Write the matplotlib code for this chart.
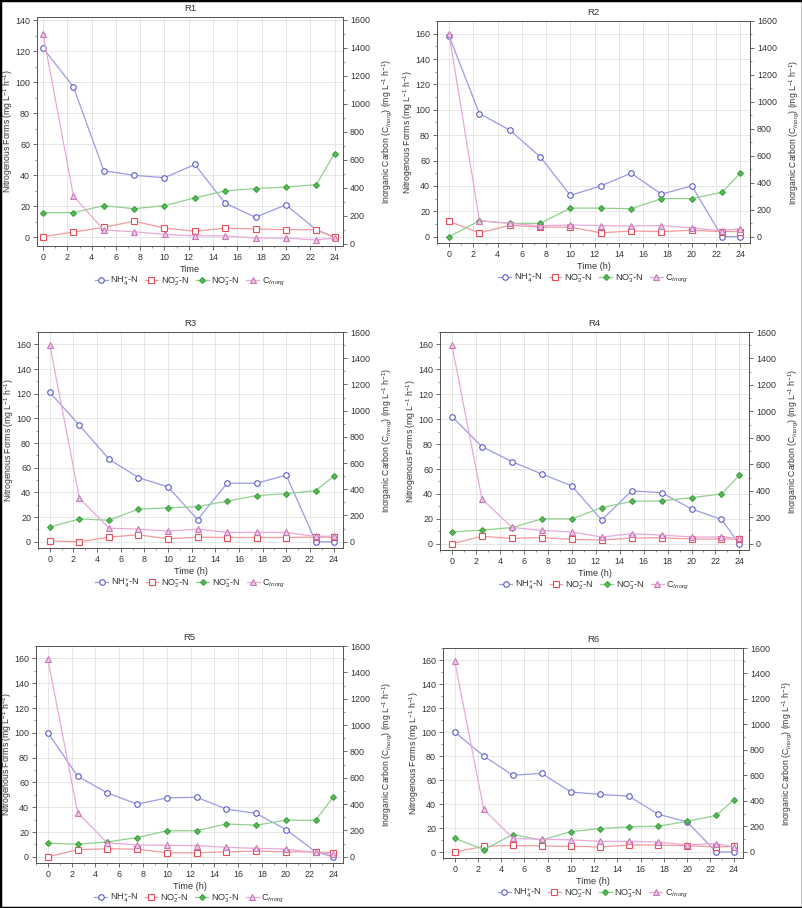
import matplotlib
matplotlib.use("Agg")
import matplotlib.pyplot as plt
from matplotlib.patches import Rectangle
from matplotlib.ticker import MultipleLocator, AutoMinorLocator

# time points (h)
time_h = [0, 2.5, 5, 7.5, 10, 12.5, 15, 17.5, 20, 22.5, 24]

# R1
r1_nh4 = [122, 97, 43, 40, 38.5, 47, 22, 13, 21, 5, 0]
r1_no2 = [0.5, 3.5, 6.5, 10.5, 6, 4, 6, 5.5, 5, 5, 0]
r1_no3 = [16, 16, 20.5, 18.5, 20.5, 25.5, 30, 31.5, 32.5, 34, 54]
r1_c = [1500, 340, 97, 85, 66, 55, 55, 40, 40, 26, 40]

# R2
r2_nh4 = [158, 97, 84, 63, 32.5, 40, 50, 33.5, 40, 0, 0]
r2_no2 = [12, 3, 9, 7.5, 7.5, 3, 4.5, 4, 5, 4, 4]
r2_no3 = [0, 12.5, 10.5, 10.5, 22.5, 22.5, 22, 30, 30, 35, 50]
r2_c = [1500, 118, 98, 80, 86, 81, 78, 81, 64, 42, 59]

# R3
r3_nh4 = [121, 94.5, 67, 52, 44.5, 18, 47.5, 47.5, 54, 0, 0]
r3_no2 = [0.8, 0, 3.8, 5.7, 2.4, 3.8, 3.5, 3.5, 3.5, 3.8, 3.8]
r3_no3 = [12, 18.5, 17.5, 26.5, 27.5, 28.5, 33, 37.5, 39, 41.5, 53]
r3_c = [1500, 333, 103, 96, 81, 96, 71, 71, 71, 40, 43]

# R4
r4_nh4 = [102, 78, 66, 56, 46.5, 19, 42.5, 41, 28, 19.5, 0]
r4_no2 = [0, 6, 4.3, 5, 3.5, 3, 4.6, 4.8, 3.8, 3.8, 3.8]
r4_no3 = [9.5, 11, 13, 20, 20, 29, 34, 34.5, 37, 40, 55]
r4_c = [1500, 338, 123, 100, 88, 50, 75, 65, 50, 50, 40]

# R5
r5_nh4 = [100, 65, 51.5, 42.5, 47.5, 48, 38.5, 35, 22, 4, 0]
r5_no2 = [0, 5.7, 6.5, 6.2, 3.2, 3.2, 4, 4.6, 4, 4, 3.2]
r5_no3 = [11, 10.2, 12, 15.5, 21, 21, 26.5, 25.5, 29.5, 29.5, 48.5]
r5_c = [1500, 334, 104, 89, 86, 84, 71, 63, 58, 33, 18]

# R6
r6_nh4 = [100, 80, 64, 65.5, 50, 48, 46.5, 31.5, 25, 0, 0]
r6_no2 = [0, 4.7, 5.5, 5, 4.7, 4.2, 5.8, 5.8, 5.3, 4.2, 4.7]
r6_no3 = [11.5, 2, 14.5, 10, 17, 19.5, 21, 21.5, 25.5, 30.5, 43.5]
r6_c = [1500, 335, 106, 99, 94, 83, 83, 78, 55, 65, 39]

titles = ["R1", "R2", "R3", "R4", "R5", "R6"]
nh4_all = [r1_nh4, r2_nh4, r3_nh4, r4_nh4, r5_nh4, r6_nh4]
no2_all = [r1_no2, r2_no2, r3_no2, r4_no2, r5_no2, r6_no2]
no3_all = [r1_no3, r2_no3, r3_no3, r4_no3, r5_no3, r6_no3]
c_all = [r1_c, r2_c, r3_c, r4_c, r5_c, r6_c]

W, H = 803, 908
# axes boxes in pixels: left, top, right, bottom
boxes = [(37, 17, 343, 246), (437, 21, 750, 243),
         (38, 332, 343, 548), (440, 332, 749, 550),
         (36, 646, 343, 863), (443, 648, 743, 858)]

plt.rcParams['font.family'] = ['Liberation Sans', 'DejaVu Sans']
plt.rcParams['mathtext.fontset'] = 'custom'
plt.rcParams['mathtext.rm'] = 'Liberation Sans'
plt.rcParams['mathtext.it'] = 'Liberation Sans:italic'
fig = plt.figure(figsize=(W / 100, H / 100), dpi=100)
txt = '#333333'
fs = 6.0

styles = [
    dict(label='NH$_4^{+}$-N', color='#9a9ae6', marker='o', mec='#5a5ac8', mfc='white'),
    dict(label='NO$_2^{-}$-N', color='#f29a9a', marker='s', mec='#e0505a', mfc='white'),
    dict(label='NO$_3^{-}$-N', color='#8fd08f', marker='D', mec='#3aa23a', mfc='#5cb85c'),
    dict(label='C$_{Inorg}$', color='#e8a8d8', marker='^', mec='#c878b8', mfc='#f0c8e8'),
]

for i, (l, t, r, b) in enumerate(boxes):
    ax = fig.add_axes([l / W, 1 - b / H, (r - l) / W, (b - t) / H])
    ax2 = ax.twinx()
    series = [nh4_all[i], no2_all[i], no3_all[i]]
    handles = []
    for s, st in zip(series, styles[:3]):
        ms = 3.0 if st['marker'] == 'D' else 4
        h, = ax.plot(time_h, s, color=st['color'], lw=0.9, marker=st['marker'],
                     ms=ms, mec=st['mec'], mfc=st['mfc'], mew=0.8, label=st['label'])
        handles.append(h)
    st = styles[3]
    h, = ax2.plot(time_h, c_all[i], color=st['color'], lw=0.9, marker='^', ms=4,
                  mec=st['mec'], mfc=st['mfc'], mew=0.8, label=st['label'])
    handles.append(h)

    if i == 0:
        ax.set_ylim(-5.5, 142)
        ax2.set_ylim(-17, 1620)
        ax.set_xlim(-0.5, 24.7)
    else:
        ax.set_ylim(-5, 170)
        ax2.set_ylim(-48, 1600)
        ax.set_xlim(-1, 24.8)
    ax.yaxis.set_major_locator(MultipleLocator(20))
    ax2.yaxis.set_major_locator(MultipleLocator(200))
    ax.xaxis.set_major_locator(MultipleLocator(2))
    for a in (ax, ax2):
        a.xaxis.set_minor_locator(AutoMinorLocator(2))
        a.yaxis.set_minor_locator(AutoMinorLocator(2))
        a.tick_params(which='major', labelsize=fs + 0.4, colors='#555555', labelcolor=txt,
                      length=3, width=0.6, pad=2)
        a.tick_params(which='minor', length=1.5, width=0.5, colors='#777777')
        for sp in a.spines.values():
            sp.set_color('#555555')
            sp.set_linewidth(0.7)
    ax.grid(True, which='major', color='#e2e2e2', lw=0.6)
    ax.set_axisbelow(True)

    ax.set_title(titles[i], fontsize=fs + 0.8, color=txt, pad=4)
    ax.set_xlabel('Time' if i == 0 else 'Time (h)', fontsize=fs + 0.6, color=txt, labelpad=2)
    ax.set_ylabel('Nitrogenous Forms (mg L$^{-1}$ h$^{-1}$)', fontsize=fs + 0.2, color=txt)
    ax2.set_ylabel('Inorganic Carbon (C$_{Inorg}$) (mg L$^{-1}$ h$^{-1}$)', fontsize=fs + 0.2,
                   color=txt)
    ax.yaxis.set_label_coords(-22 / (r - l), 0.5)
    ax2.yaxis.set_label_coords(1 + 37 / (r - l), 0.5)

    cx = (l + r) / 2 / W
    ly = 1 - (b + 35) / H
    fig.legend(handles=handles, loc='center', bbox_to_anchor=(cx, ly), ncol=4,
               frameon=False, fontsize=fs + 0.6, handlelength=1.4, handletextpad=0.3,
               columnspacing=0.7, labelcolor=txt)

fig.patches.append(Rectangle((0, 0), 1, 1, transform=fig.transFigure, fill=False,
                             edgecolor='black', linewidth=2.5))

fig.savefig('out.png', dpi=100)
